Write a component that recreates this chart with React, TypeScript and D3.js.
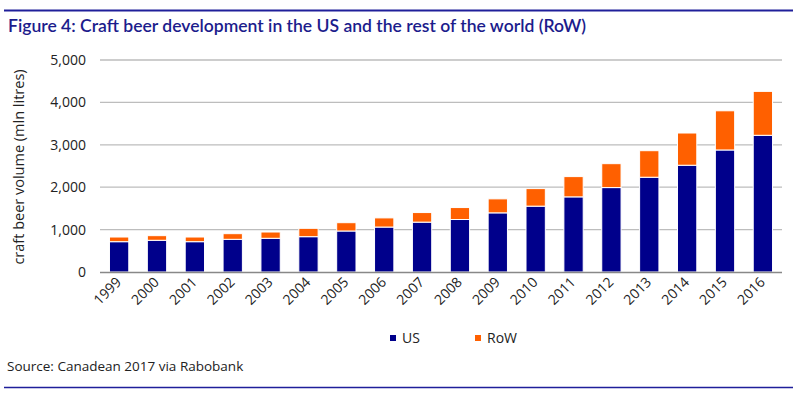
import React from "react";
import * as d3 from "d3";

const years = ["1999","2000","2001","2002","2003","2004","2005","2006","2007","2008","2009","2010","2011","2012","2013","2014","2015","2016"];
const usValues = [715, 748, 715, 771, 795, 833, 967, 1060, 1176, 1238, 1395, 1553, 1772, 1991, 2235, 2518, 2878, 3224];
const rowValues = [110, 109, 110, 133, 148, 197, 196, 216, 226, 282, 330, 414, 478, 564, 626, 760, 924, 1036];
const yTicks = [0, 1000, 2000, 3000, 4000, 5000];
const seriesNames = ["US", "RoW"];
const seriesColors = ["#00008B", "#FF6000"];

const W = 800, H = 393;
const left = 100, right = 782, top = 60, bottom = 272;

export default function App() {
  const x = d3.scaleBand().domain(years).range([left, right]).paddingInner(0.49).paddingOuter(0.25);
  const y = d3.scaleLinear().domain([0, 5000]).range([bottom, top]);
  const data = years.map((yr, i) => ({ year: yr, US: usValues[i], RoW: rowValues[i] }));
  const stacked = d3.stack<any>().keys(seriesNames)(data);
  const fmt = d3.format(",");
  const font = "'Open Sans', 'Liberation Sans', Arial, sans-serif";
  return (
    <svg width={W} height={H} style={{ position: "absolute", left: 0, top: 0 }} fontFamily={font}>
      <rect width={W} height={H} fill="#fff" />
      <line x1={4} x2={793} y1={10.5} y2={10.5} stroke="#1f1f9a" strokeWidth={2} />
      <text x={8} y={32} fontSize={16.5} fill="#1c1c8c" fontWeight={600} fontFamily="Lato, 'Open Sans', sans-serif" textLength={578} lengthAdjust="spacingAndGlyphs">
        Figure 4: Craft beer development in the US and the rest of the world (RoW)
      </text>
      {yTicks.map(t => (
        <g key={t}>
          {t > 0 && <line x1={left} x2={right} y1={y(t)} y2={y(t)} stroke="#bdbdbd" strokeWidth={1.3} />}
          <text x={86} y={y(t)} dy="0.35em" textAnchor="end" fontSize={14} fill="#222">{fmt(t)}</text>
        </g>
      ))}
      <text transform={`translate(24,${(top + bottom) / 2 + 1}) rotate(-90)`} textAnchor="middle" fontSize={14.5} fill="#222">
        craft beer volume (mln litres)
      </text>
      {stacked.map((s, si) => (
        <g key={s.key}>
          {s.map((d, i) => (
            <rect key={i} x={x(years[i])!} width={x.bandwidth()} y={y(d[1])} height={y(d[0]) - y(d[1])}
              fill={seriesColors[si]} stroke="#fff" strokeWidth={1} />
          ))}
        </g>
      ))}
      <line x1={left} x2={right} y1={bottom + 0.5} y2={bottom + 0.5} stroke="#888" strokeWidth={1.5} />
      {years.map(yr => (
        <text key={yr} transform={`translate(${x(yr)! + x.bandwidth() / 2 + 3},${bottom + 11}) rotate(-45)`}
          textAnchor="end" fontSize={14} fill="#222">{yr}</text>
      ))}
      {seriesNames.map((n, i) => (
        <g key={n} transform={`translate(${i === 0 ? 390 : 475},0)`}>
          <rect x={0} y={335} width={6} height={6} fill={seriesColors[i]} />
          <text x={12} y={343} fontSize={14} fill="#222">{n}</text>
        </g>
      ))}
      <text x={7} y={371} fontSize={13.5} fill="#222">Source: Canadean 2017 via Rabobank</text>
      <line x1={4} x2={793} y1={387.5} y2={387.5} stroke="#1f1f9a" strokeWidth={1.5} />
    </svg>
  );
}
